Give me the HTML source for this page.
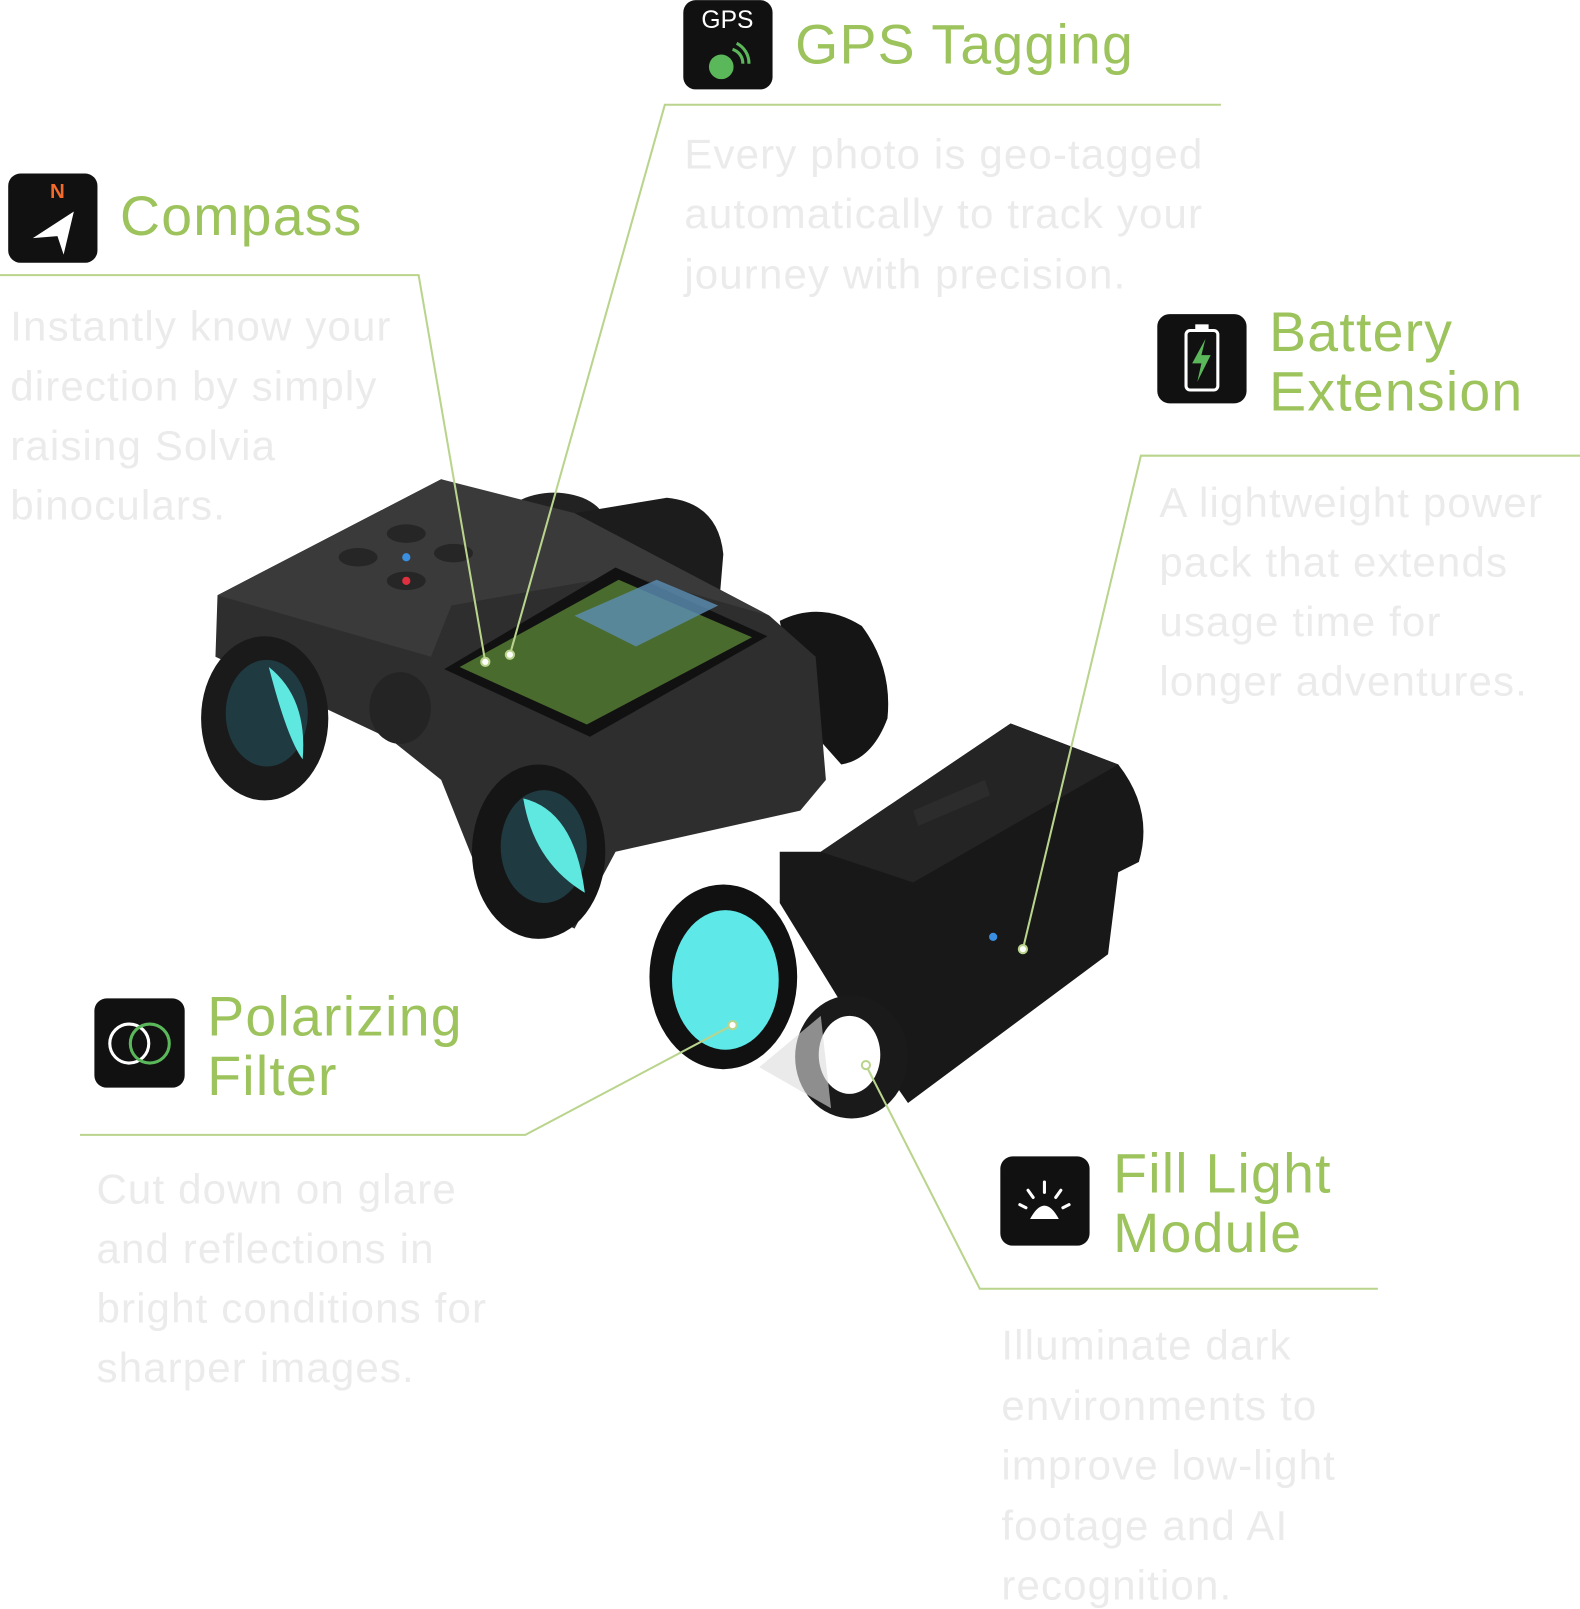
<!DOCTYPE html>
<html><head><meta charset="utf-8"><style>
html,body{margin:0;padding:0;background:#fff;width:1580px;height:1609px;overflow:hidden}
svg{display:block}
.t{font-family:"Liberation Sans",sans-serif;fill:#9cc35c;font-size:54px;letter-spacing:1.2px}
.d{font-family:"Liberation Sans",sans-serif;fill:#ebebeb;font-size:41px;letter-spacing:1.1px}
.l{stroke:#b9d48c;stroke-width:2;fill:none}
</style></head><body>
<svg width="1580" height="1609" viewBox="0 0 1540 1568" xmlns="http://www.w3.org/2000/svg">
<g>
 <ellipse cx="540" cy="510" rx="50" ry="30" fill="#222"/>
 <path d="M560 500 L650 485 Q700 490 705 540 L700 600 L600 600 Z" fill="#1c1c1c"/>
 <path d="M760 605 Q800 585 840 610 Q870 650 865 700 Q850 740 820 745 L780 700 Z" fill="#151515"/>
 <path d="M212 580 L430 467 L470 480 L560 500 L750 600 L795 640 L805 760 L780 790 L600 830 L560 905 L470 860 L430 760 L380 720 L210 640 Z" fill="#2e2e2e"/>
 <path d="M212 580 L430 467 L560 500 L750 600 L610 560 L440 590 L420 640 Z" fill="#3a3a3a"/>
 <path d="M433 652 L600 553 L748 620 L575 718 Z" fill="#111"/>
 <path d="M448 650 L603 565 L733 621 L572 706 Z" fill="#4a6b2e"/>
 <path d="M560 600 L640 565 L700 590 L620 630 Z" fill="#5d8fb5" opacity=".8"/>
 <ellipse cx="396" cy="520" rx="19" ry="9" fill="#262626"/>
 <ellipse cx="349" cy="543" rx="19" ry="9" fill="#262626"/>
 <ellipse cx="442" cy="539" rx="19" ry="9" fill="#262626"/>
 <ellipse cx="396" cy="566" rx="19" ry="9" fill="#262626"/>
 <circle cx="396" cy="543" r="4" fill="#3a8fe0"/>
 <circle cx="396" cy="566" r="4" fill="#e03040"/>
 <ellipse cx="258" cy="700" rx="62" ry="80" fill="#1a1a1a"/>
 <ellipse cx="260" cy="695" rx="40" ry="52" fill="#1f3a40"/>
 <path d="M262 650 Q300 680 295 740 Q280 720 262 650 Z" fill="#5ee8e0"/>
 <ellipse cx="390" cy="690" rx="30" ry="35" fill="#242424"/>
 <ellipse cx="525" cy="830" rx="65" ry="85" fill="#151515"/>
 <ellipse cx="530" cy="825" rx="42" ry="55" fill="#1f3a40"/>
 <path d="M510 778 Q560 790 570 870 Q520 840 510 778 Z" fill="#5ee8e0"/>
 <path d="M800 830 L985 705 L1090 745 Q1125 790 1110 840 L1090 850 L1080 930 L885 1075 L840 1010 L760 880 L760 830 Z" fill="#181818"/>
 <path d="M800 830 L985 705 L1090 745 L890 860 Z" fill="#242424"/>
 <path d="M890 790 L960 760 L965 775 L895 805 Z" fill="#2c2c2c"/>
 <circle cx="968" cy="913" r="4" fill="#3a8fe0"/>
 <ellipse cx="705" cy="952" rx="72" ry="90" fill="#111"/>
 <ellipse cx="707" cy="955" rx="52" ry="68" fill="#5ee8e8"/>
 <ellipse cx="830" cy="1030" rx="55" ry="60" fill="#1a1a1a"/>
 <ellipse cx="828" cy="1028" rx="30" ry="38" fill="#fff"/>
 <path d="M740 1040 L800 990 L810 1080 Z" fill="#dcdcdc" opacity=".6"/>
</g>
<path class="l" d="M1190 102 L648 102 L497 638"/>
<path class="l" d="M0 268 L408 268 L473 645"/>
<path class="l" d="M1540 444 L1112 444 L997 925"/>
<path class="l" d="M78 1106 L512 1106 L714 999"/>
<path class="l" d="M1343 1256 L955 1256 L844 1038"/>
<g fill="#fff" stroke="#b9d48c" stroke-width="2">
<circle cx="497" cy="638" r="4"/><circle cx="473" cy="645" r="4"/><circle cx="997" cy="925" r="4"/><circle cx="714" cy="999" r="4"/><circle cx="844" cy="1038" r="4"/>
</g>
<rect x="666" y="0" width="87" height="87" rx="12" fill="#111"/>
<text x="709" y="27" font-family="Liberation Sans,sans-serif" font-size="24" fill="#fff" text-anchor="middle">GPS</text>
<circle cx="703" cy="65" r="12" fill="#5bb85a"/>
<path d="M714 48 A14 14 0 0 1 724 62 M718 42 A22 22 0 0 1 730 62" stroke="#5bb85a" stroke-width="3" fill="none"/>
<rect x="8" y="169" width="87" height="87" rx="12" fill="#111"/>
<text x="56" y="193" font-family="Liberation Sans,sans-serif" font-size="20" font-weight="bold" fill="#f36a2a" text-anchor="middle">N</text>
<path d="M32 232 L72 206 L62 248 L56 230 Z" fill="#fff"/>
<rect x="1128" y="306" width="87" height="87" rx="12" fill="#111"/>
<rect x="1156" y="322" width="31" height="58" rx="4" fill="none" stroke="#fff" stroke-width="3"/>
<rect x="1165" y="316" width="13" height="6" fill="#fff"/>
<path d="M1175 330 L1162 354 L1171 354 L1167 372 L1180 346 L1171 346 Z" fill="#5bb85a"/>
<rect x="92" y="973" width="88" height="87" rx="12" fill="#111"/>
<circle cx="126" cy="1017" r="19" fill="none" stroke="#fff" stroke-width="3"/>
<circle cx="146" cy="1017" r="19" fill="none" stroke="#5bb85a" stroke-width="3"/>
<rect x="975" y="1127" width="87" height="87" rx="12" fill="#111"/>
<path d="M1004 1188 Q1018 1162 1032 1188 Z" fill="#fff"/>
<g stroke="#fff" stroke-width="3" stroke-linecap="round"><path d="M1018 1152 L1018 1162 M1002 1160 L1007 1167 M1034 1160 L1029 1167 M994 1174 L1000 1177 M1042 1174 L1036 1177"/></g>
<text class="t" x="775" y="62">GPS Tagging</text>
<text class="t" x="117" y="229">Compass</text>
<text class="t" x="1237" y="342">Battery</text>
<text class="t" x="1237" y="400">Extension</text>
<text class="t" x="202" y="1009">Polarizing</text>
<text class="t" x="202" y="1067">Filter</text>
<text class="t" x="1085" y="1162">Fill Light</text>
<text class="t" x="1085" y="1220">Module</text>
<text class="d" x="667" y="164">Every photo is geo-tagged</text>
<text class="d" x="667" y="222">automatically to track your</text>
<text class="d" x="667" y="281">journey with precision.</text>
<text class="d" x="10" y="332">Instantly know your</text>
<text class="d" x="10" y="390">direction by simply</text>
<text class="d" x="10" y="448">raising Solvia</text>
<text class="d" x="10" y="506">binoculars.</text>
<text class="d" x="1130" y="504">A lightweight power</text>
<text class="d" x="1130" y="562">pack that extends</text>
<text class="d" x="1130" y="620">usage time for</text>
<text class="d" x="1130" y="678">longer adventures.</text>
<text class="d" x="94" y="1173">Cut down on glare</text>
<text class="d" x="94" y="1231">and reflections in</text>
<text class="d" x="94" y="1289">bright conditions for</text>
<text class="d" x="94" y="1347">sharper images.</text>
<text class="d" x="976" y="1325">Illuminate dark</text>
<text class="d" x="976" y="1384">environments to</text>
<text class="d" x="976" y="1442">improve low-light</text>
<text class="d" x="976" y="1501">footage and AI</text>
<text class="d" x="976" y="1559">recognition.</text>
</svg>
</body></html>
